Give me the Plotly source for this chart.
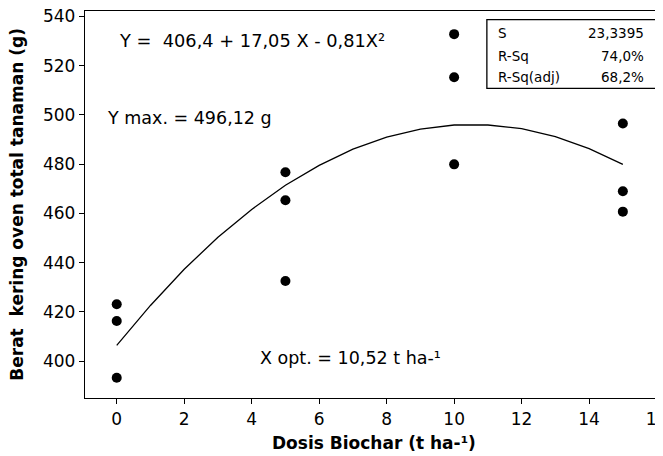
import plotly.graph_objects as go

# observed data
dose = [0, 0, 0, 5, 5, 5, 10, 10, 10, 15, 15, 15]
weight = [423.1, 416.3, 393.2, 476.7, 465.3, 432.5, 532.8, 515.3, 479.9, 496.5, 469.0, 460.7]

# fitted curve
fit_x = [0, 1, 2, 3, 4, 5, 6, 7, 8, 9, 10, 11, 12, 13, 14, 15]
fit_y = [406.4, 422.6, 437.3, 450.3, 461.6, 471.4, 479.5, 486.1, 491.0, 494.2,
         495.9, 495.9, 494.4, 491.2, 486.3, 479.9]

x_ticks = [0, 2, 4, 6, 8, 10, 12, 14, 16]
y_ticks = [400, 420, 440, 460, 480, 500, 520, 540]

stat_names = ["S", "R-Sq", "R-Sq(adj)"]
stat_values = ["23,3395", "74,0%", "68,2%"]

FONT = "DejaVu Sans"

fig = go.Figure()
fig.add_trace(go.Scatter(x=fit_x, y=fit_y, mode="lines",
                         line=dict(color="black", width=1.3), showlegend=False))
fig.add_trace(go.Scatter(x=dose, y=weight, mode="markers",
                         marker=dict(color="black", size=10), showlegend=False))

anns = [
    dict(x=0.0, y=530.2, text="Y =  406,4 + 17,05 X - 0,81X²", xanchor="left", yanchor="middle", font=dict(size=17.8)),
    dict(x=-0.34, y=498.6, text="Y max. = 496,12 g", xanchor="left", yanchor="middle", font=dict(size=17.5)),
    dict(x=4.2, y=401.2, text="X opt. = 10,52 t ha-¹", xanchor="left", yanchor="middle", font=dict(size=17.5)),
]
row_y = [533.1, 524.1, 515.2]
for name, val, yy in zip(stat_names, stat_values, row_y):
    anns.append(dict(x=11.25, y=yy, text=name, xanchor="left", yanchor="middle", font=dict(size=13.5)))
    anns.append(dict(x=15.68, y=yy, text=val, xanchor="right", yanchor="middle", font=dict(size=13.5)))
for a in anns:
    a.update(xref="x", yref="y", showarrow=False)
    a["font"].update(family=FONT, color="black")

# axis titles
anns.append(dict(xref="paper", yref="paper", x=0.5, y=-0.116, text="<b>Dosis Biochar (t ha-¹)</b>",
                 showarrow=False, xanchor="center", yanchor="middle",
                 font=dict(size=17, family=FONT, color="black")))
anns.append(dict(xref="paper", yref="paper", x=-0.119, y=0.5, text="<b>Berat  kering oven total tanaman (g)</b>",
                 showarrow=False, xanchor="center", yanchor="middle", textangle=-90,
                 font=dict(size=17, family=FONT, color="black")))

# page body has an 8px offset; figure spans 8..663 x 8..456 of the window
fig.update_layout(
    width=655, height=448,
    margin=dict(l=77, r=0, t=3, b=58),
    paper_bgcolor="white", plot_bgcolor="white",
    font=dict(family=FONT, color="black", size=17),
    annotations=anns,
    shapes=[dict(type="rect", xref="x", yref="y", x0=10.97, x1=16.01, y0=510.8, y1=538.7,
                 line=dict(color="black", width=1.3), fillcolor="rgba(0,0,0,0)")],
    xaxis=dict(range=[-0.94, 16.19], tickvals=x_ticks, ticks="outside", ticklen=5,
               tickcolor="black", showline=True, linecolor="black", linewidth=1.3,
               mirror=True, showgrid=False, zeroline=False, automargin=False,
               ticklabeloverflow="allow",
               tickfont=dict(size=17, family=FONT)),
    yaxis=dict(range=[385.0, 542.2], tickvals=y_ticks, ticks="outside", ticklen=5,
               tickcolor="black", showline=True, linecolor="black", linewidth=1.3,
               mirror=False, showgrid=False, zeroline=False, automargin=False,
               ticklabeloverflow="allow",
               tickfont=dict(size=17, family=FONT)),
)

fig.write_html("out.html")
